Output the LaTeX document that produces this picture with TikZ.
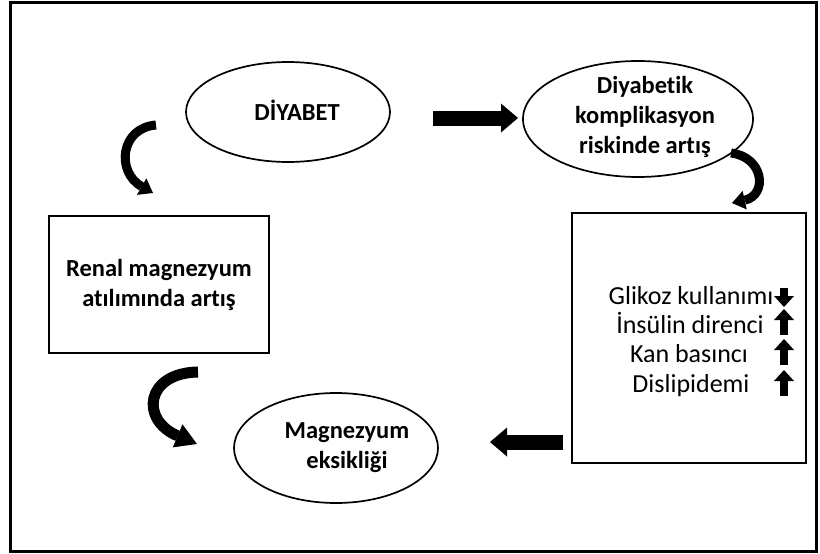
\documentclass[tikz,border=0pt]{standalone}
\usepackage{fontspec}
\setmainfont{Carlito}[Ligatures={TeX,NoCommon}]
\usetikzlibrary{shapes.geometric,arrows.meta}

\tikzset{
  bubble/.style={draw,ellipse,line width=1.7pt,inner sep=0pt},
  panel/.style={draw,rectangle,line width=2.6pt,inner sep=0pt},
  bigtext/.style={font=\fontsize{24.5}{30}\selectfont\bfseries,align=center,inner sep=0pt},
  listtext/.style={font=\fontsize{26}{30}\selectfont,anchor=base,inner sep=0pt},
  fatarrow/.style={line width=15pt,-{Triangle[width=29pt,length=17pt,line width=0pt]}},
  bentarrow/.style={line width=9pt,-{Triangle[width=19pt,length=13pt,line width=0pt]}},
  bigbent/.style={line width=11pt,-{Triangle[width=25pt,length=21pt,line width=0pt]}},
  updown/.style={line width=8.5pt,-{Triangle[width=20pt,length=11pt,line width=0pt]}},
}

\begin{document}
\begin{tikzpicture}[x=1pt,y=1pt,yscale=-1]
\useasboundingbox (0,0) rectangle (820,554);

% Frame
\draw[line width=3pt] (10.5,2.5) rectangle (816,551);

% Ellipses
\node[bubble,minimum width=204pt,minimum height=100pt] (diyabet) at (288,112) {};
\node[bigtext] (diyabetlbl) at (297,110) {DİYABET};
\node[bubble,minimum width=230pt,minimum height=116pt] (risk) at (638,119) {};
\node[bigtext] (risklbl) at (645,117) {Diyabetik\\komplikasyon\\riskinde artış};
\node[bubble,minimum width=204pt,minimum height=110pt] (magnezyum) at (336,448) {};
\node[bigtext] (magnezyumlbl) at (347,448) {Magnezyum\\eksikliği};

% Boxes
\node[panel,minimum width=220pt,minimum height=137pt] (renal) at (159,284.5) {};
\node[bigtext] (renallbl) at (159,285) {Renal magnezyum\\atılımında artış};
\node[panel,minimum width=234pt,minimum height=250pt] (etki) at (689,338) {};

% Box lines
\node[listtext] (glikoz) at (691,304) {Glikoz kullanımı};
\node[listtext] (insulin) at (690,333) {İnsülin direnci};
\node[listtext] (basinc) at (689,362) {Kan basıncı};
\node[listtext] (lipid) at (691,392) {Dislipidemi};

% Up / down marks
\draw[updown] (784,288) -- (784,307);
\draw[updown] (784,335) -- (784,309);
\draw[updown] (784,365) -- (784,339);
\draw[updown] (784,396) -- (784,370);

% Connections
\coordinate (a1) at (433,118);
\coordinate (a2) at (518,118);
\coordinate (b1) at (563,442);
\coordinate (b2) at (490,442);
\coordinate (c1) at (156,125);
\coordinate (c2) at (153,193);
\coordinate (d1) at (731,153);
\coordinate (d2) at (732,203);
\coordinate (e1) at (198,372);
\coordinate (e2) at (197,444);
\draw[fatarrow] (a1) -- (a2);
\draw[fatarrow] (b1) -- (b2);
\draw[bentarrow] (c1) .. controls (120,128) and (116,172) .. (c2);
\draw[bentarrow] (d1) .. controls (764,157) and (768,195) .. (d2);
\draw[bigbent] (e1) .. controls (145,373) and (140,420) .. (e2);

\end{tikzpicture}
\end{document}
